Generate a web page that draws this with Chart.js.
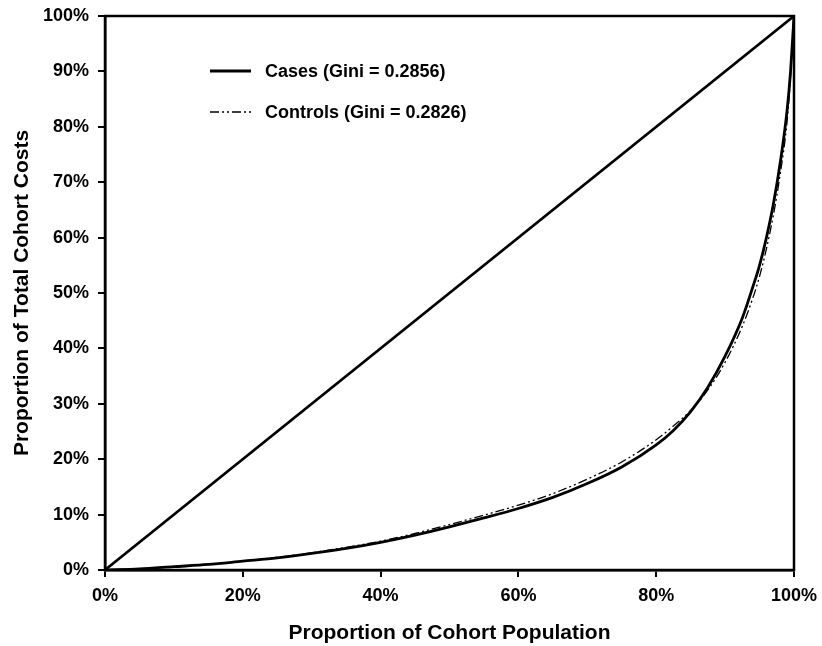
<!DOCTYPE html>
<html>
<head>
<meta charset="utf-8">
<script src="https://cdn.jsdelivr.net/npm/chart.js@4.4.1/dist/chart.umd.min.js"></script>
<style>
html,body{margin:0;padding:0;background:#fff;}
#wrap{width:822px;height:646px;position:relative;}
</style>
</head>
<body>
<div id="wrap"><canvas id="c" width="822" height="646"></canvas></div>
<script>
// Data (percent)
const popShare     = [0, 5, 10, 15, 20, 25, 30, 35, 40, 45, 50, 55, 60, 65, 70, 75, 80, 82.5, 85, 87.5, 90, 92.5, 94, 95, 96, 97, 98, 99, 99.5, 100];
const casesCost    = [0, 0.2, 0.6, 1.0, 1.6, 2.2, 3.0, 3.9, 5.0, 6.3, 7.8, 9.4, 11.1, 13.1, 15.6, 18.6, 22.6, 25.2, 28.6, 33.0, 38.6, 45.5, 51, 55, 60, 66, 73.5, 83, 90, 100];
const controlsCost = [0, 0.2, 0.6, 1.0, 1.6, 2.3, 3.1, 4.1, 5.2, 6.6, 8.2, 9.9, 11.7, 13.8, 16.4, 19.5, 23.5, 26.0, 28.8, 32.5, 37.5, 44, 49, 53, 58, 64, 71.5, 81, 89, 100];
const equalityX = [0, 100];
const equalityY = [0, 100];
const seriesLabels = ['Cases (Gini = 0.2856)', 'Controls (Gini = 0.2826)'];
const xTicks = [0, 20, 40, 60, 80, 100];
const yTicks = [0, 10, 20, 30, 40, 50, 60, 70, 80, 90, 100];
const xTitle = 'Proportion of Cohort Population';
const yTitle = 'Proportion of Total Cohort Costs';

const FONT = "'Liberation Sans', Arial, Helvetica, sans-serif";
const toPts = (xs, ys) => xs.map((x, i) => ({x: x, y: ys[i]}));

const frame = {
  id: 'frame',
  afterDatasetsDraw(chart) {
    const a = chart.chartArea, ctx = chart.ctx;
    ctx.save();
    ctx.strokeStyle = '#000';
    ctx.lineWidth = 2.5;
    ctx.strokeRect(a.left, a.top, a.right - a.left, a.bottom - a.top);
    ctx.restore();
  }
};

const legendPlugin = {
  id: 'customLegend',
  afterDraw(chart) {
    const ctx = chart.ctx;
    const items = [
      {ds: chart.data.datasets[0], y: 71},
      {ds: chart.data.datasets[1], y: 112}
    ];
    ctx.save();
    items.forEach(it => {
      ctx.beginPath();
      ctx.strokeStyle = '#000';
      ctx.lineWidth = it.ds.borderWidth;
      ctx.setLineDash(it.ds.borderDash || []);
      ctx.moveTo(210, it.y);
      ctx.lineTo(251, it.y);
      ctx.stroke();
      ctx.setLineDash([]);
      ctx.fillStyle = '#000';
      ctx.font = 'bold 18px ' + FONT;
      ctx.textBaseline = 'middle';
      ctx.textAlign = 'left';
      ctx.fillText(it.ds.label, 265, it.y + 1);
    });
    ctx.restore();
  }
};

new Chart(document.getElementById('c'), {
  type: 'line',
  data: {
    datasets: [
      {label: seriesLabels[0], data: toPts(popShare, casesCost), borderColor: '#000', borderWidth: 2.8, pointRadius: 0, cubicInterpolationMode: 'monotone', fill: false},
      {label: seriesLabels[1], data: toPts(popShare, controlsCost), borderColor: '#000', borderWidth: 1.3, borderDash: [9, 3, 2, 3, 2, 3], pointRadius: 0, cubicInterpolationMode: 'monotone', fill: false},
      {label: 'Equality', data: toPts(equalityX, equalityY), borderColor: '#000', borderWidth: 2.6, pointRadius: 0, fill: false}
    ]
  },
  options: {
    responsive: false,
    animation: false,
    layout: {padding: {left: 0, right: 28, top: 16, bottom: 0}},
    plugins: {legend: {display: false}, tooltip: {enabled: false}},
    scales: {
      x: {
        type: 'linear', min: 0, max: 100,
        afterBuildTicks: s => { s.ticks = xTicks.map(v => ({value: v})); },
        afterFit: s => { s.height = 76; s.paddingLeft = 0; s.paddingRight = 0; },
        border: {display: true, color: '#000', width: 2.5},
        grid: {display: true, drawOnChartArea: false, drawTicks: true, tickLength: 7, color: '#000', lineWidth: 2},
        ticks: {color: '#000', font: {family: FONT, size: 18, weight: 'bold'}, padding: 8, maxRotation: 0, callback: v => v + '%'},
        title: {display: true, text: xTitle, color: '#000', font: {family: FONT, size: 21, weight: 'bold'}, padding: {top: 0, bottom: 0}}
      },
      y: {
        type: 'linear', min: 0, max: 100,
        afterBuildTicks: s => { s.ticks = yTicks.map(v => ({value: v})); },
        afterFit: s => { s.width = 105; s.paddingTop = 0; s.paddingBottom = 0; },
        border: {display: true, color: '#000', width: 2.5},
        grid: {display: true, drawOnChartArea: false, drawTicks: true, tickLength: 7, color: '#000', lineWidth: 2},
        ticks: {color: '#000', font: {family: FONT, size: 18, weight: 'bold'}, padding: 9, callback: v => v + '%'},
        title: {display: true, text: yTitle, color: '#000', font: {family: FONT, size: 21, weight: 'bold'}, padding: {top: 10, bottom: 0}}
      }
    }
  },
  plugins: [frame, legendPlugin]
});
</script>
</body>
</html>
